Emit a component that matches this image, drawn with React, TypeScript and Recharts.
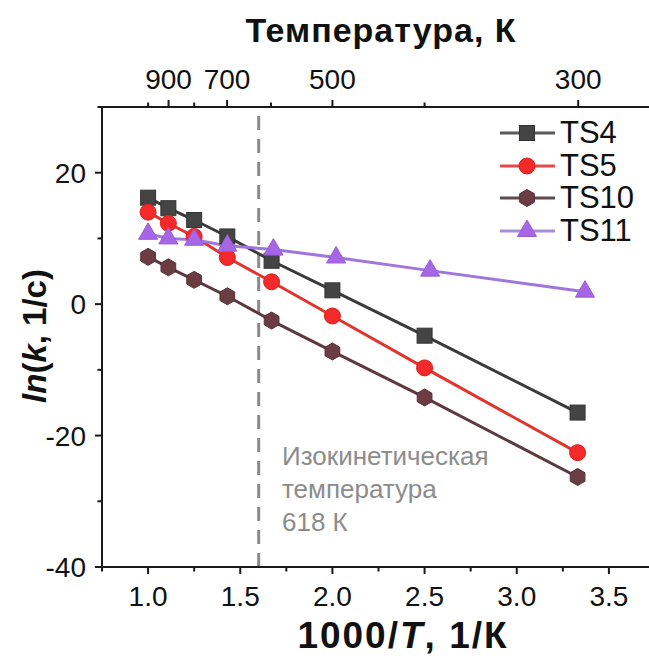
import { LineChart, Line, XAxis, YAxis, ReferenceLine } from 'recharts';

// 1000/T values (1/K)
const invT = [1.0, 1.11, 1.25, 1.43, 1.67, 2.0, 2.5, 3.33];
const invT11 = [1.0, 1.11, 1.25, 1.43, 1.68, 2.02, 2.53, 3.37];

// ln(k, 1/c)
const ts4 = [16.2, 14.6, 12.8, 10.3, 6.6, 2.1, -4.8, -16.5];
const ts5 = [14.0, 12.3, 10.3, 7.1, 3.4, -1.8, -9.7, -22.6];
const ts10 = [7.2, 5.6, 3.7, 1.2, -2.5, -7.2, -14.2, -26.3];
const ts11 = [10.7, 10.0, 9.8, 8.9, 8.3, 7.1, 5.1, 1.9];

const bottomTicks = [0.75, 1.0, 1.25, 1.5, 1.75, 2.0, 2.25, 2.5, 2.75, 3.0, 3.25, 3.5];
const bottomMajor = [1.0, 1.5, 2.0, 2.5, 3.0, 3.5];
const yTicks = [-40, -30, -20, -10, 0, 10, 20, 30];
const yMajor = [-40, -20, 0, 20];
const topTicksK = [1000, 900, 800, 700, 600, 500, 400, 300];
const topMajorK = [900, 700, 500, 300];
const isokineticX = 1.6;

const FONT = '"Liberation Sans", Arial, sans-serif';
const AXIS = '#1a1a1a';

const toPoints = (xs: number[], ys: number[]) => xs.map((x, i) => ({ x, y: ys[i] }));

// TS11 sits on the top axis (same domain) so that axis gets its ticks
const series = [
  { name: 'TS4', data: toPoints(invT, ts4), axis: 0, line: '#3b3b3b', fill: '#444444', legendLine: '#5a5a5a', shape: 'square' },
  { name: 'TS5', data: toPoints(invT, ts5), axis: 0, line: '#e0352d', fill: '#f42a2a', legendLine: '#e54a4a', shape: 'circle' },
  { name: 'TS10', data: toPoints(invT, ts10), axis: 0, line: '#5c3a40', fill: '#6c3c43', legendLine: '#5f4a4f', shape: 'hex' },
  { name: 'TS11', data: toPoints(invT11, ts11), axis: 'top', line: '#a076de', fill: '#a766e6', legendLine: '#a58fd6', shape: 'tri' },
];

function Marker({ cx, cy, shape, fill }: { cx: number; cy: number; shape: string; fill: string }) {
  if (cx == null || cy == null) return null;
  if (shape === 'square') {
    return <rect x={cx - 7.5} y={cy - 7.5} width={15} height={15} fill={fill} stroke="#333" strokeWidth={1} />;
  }
  if (shape === 'circle') {
    return <circle cx={cx} cy={cy} r={8} fill={fill} stroke="#d82020" strokeWidth={1} />;
  }
  if (shape === 'hex') {
    const r = 8.5;
    const pts = [0, 1, 2, 3, 4, 5]
      .map((i) => {
        const a = (Math.PI / 3) * i - Math.PI / 2;
        return `${cx + r * Math.cos(a)},${cy + r * Math.sin(a)}`;
      })
      .join(' ');
    return <polygon points={pts} fill={fill} stroke="#553036" strokeWidth={1} />;
  }
  const r = 11;
  const pts = `${cx},${cy - r} ${cx - r * 0.866},${cy + r * 0.5} ${cx + r * 0.866},${cy + r * 0.5}`;
  return <polygon points={pts} fill={fill} stroke="#9a5ad8" strokeWidth={1} />;
}

const BottomTick = (props: any) => {
  const { x, y, payload } = props;
  const major = bottomMajor.includes(payload.value);
  return (
    <g>
      <line x1={x} y1={y} x2={x} y2={y + (major ? 7 : 4.5)} stroke={AXIS} strokeWidth={2} />
      {major && (
        <text x={x} y={y + 39} textAnchor="middle" fontSize={28} fill="#111" fontFamily={FONT}>
          {payload.value.toFixed(1)}
        </text>
      )}
    </g>
  );
};

const TopTick = (props: any) => {
  const { x, y, payload } = props;
  const k = Math.round(1000 / payload.value);
  const major = topMajorK.includes(k);
  return (
    <g>
      <line x1={x} y1={y} x2={x} y2={y - (major ? 7 : 4.5)} stroke={AXIS} strokeWidth={2} />
      {major && (
        <text x={x} y={y - 18} textAnchor="middle" fontSize={28} fill="#111" fontFamily={FONT}>
          {k}
        </text>
      )}
    </g>
  );
};

const LeftTick = (props: any) => {
  const { x, y, payload } = props;
  const major = yMajor.includes(payload.value);
  return (
    <g>
      <line x1={x} y1={y} x2={x - (major ? 7 : 4.5)} y2={y} stroke={AXIS} strokeWidth={2} />
      {major && (
        <text x={x - 16} y={y} dy="0.36em" textAnchor="end" fontSize={28} fill="#111" fontFamily={FONT}>
          {payload.value}
        </text>
      )}
    </g>
  );
};

const LegendBox = () => (
  <div style={{ position: 'absolute', left: 498, top: 117, fontFamily: FONT }}>
    {series.map((s) => (
      <div key={s.name} style={{ display: 'flex', alignItems: 'center', height: 32.5 }}>
        <svg width={62} height={30}>
          <line x1={2} y1={15} x2={57} y2={15} stroke={s.legendLine} strokeWidth={3} />
          <Marker cx={29} cy={15} shape={s.shape} fill={s.fill} />
        </svg>
        <span style={{ fontSize: 31, color: '#111', lineHeight: '32px' }}>{s.name}</span>
      </div>
    ))}
  </div>
);

export default function App() {
  return (
    <div style={{ position: 'absolute', left: 0, top: 0, width: 649, height: 659, overflow: 'hidden', background: '#fff' }}>
      <LineChart width={680} height={659} margin={{ top: 67, right: 25, bottom: 52, left: 0 }}>
        <XAxis
          dataKey="x"
          type="number"
          domain={[0.75, 3.75]}
          allowDataOverflow
          ticks={bottomTicks}
          interval={0}
          tickSize={0}
          tickMargin={0}
          tickLine={false}
          tick={<BottomTick />}
          axisLine={{ stroke: AXIS, strokeWidth: 2 }}
          height={40}
        />
        <XAxis
          xAxisId="top"
          dataKey="x"
          orientation="top"
          type="number"
          domain={[0.75, 3.75]}
          allowDataOverflow
          ticks={topTicksK.map((k) => 1000 / k)}
          interval={0}
          tickSize={0}
          tickMargin={0}
          tickLine={false}
          tick={<TopTick />}
          axisLine={{ stroke: AXIS, strokeWidth: 2 }}
          height={40}
        />
        <YAxis
          type="number"
          domain={[-40, 30]}
          allowDataOverflow
          ticks={yTicks}
          interval={0}
          tickSize={0}
          tickMargin={0}
          tickLine={false}
          tick={<LeftTick />}
          axisLine={{ stroke: AXIS, strokeWidth: 2 }}
          width={102}
        />
        <ReferenceLine x={isokineticX} stroke="#8a8a8a" strokeWidth={3} strokeDasharray="14 9" />
        {series.map((s) => (
          <Line
            key={s.name}
            xAxisId={s.axis}
            data={s.data}
            dataKey="y"
            name={s.name}
            type="linear"
            stroke={s.line}
            strokeWidth={3}
            isAnimationActive={false}
            dot={(p: any) => <Marker key={`${s.name}-${p.index}`} cx={p.cx} cy={p.cy} shape={s.shape} fill={s.fill} />}
            activeDot={false}
          />
        ))}
      </LineChart>
      <LegendBox />
      <svg width={649} height={659} style={{ position: 'absolute', left: 0, top: 0, pointerEvents: 'none' }} fontFamily={FONT}>
        <text x={381} y={42} textAnchor="middle" fontSize={34} fontWeight="bold" fill="#111" letterSpacing={1}>
          Температура, К
        </text>
        <text x={403} y={648} textAnchor="middle" fontSize={37} fontWeight="bold" fill="#111" letterSpacing={2}>
          1000/<tspan fontStyle="italic">T</tspan>, 1/К
        </text>
        <text transform="translate(46,336) rotate(-90)" textAnchor="middle" fontSize={33} fontWeight="bold" fill="#111">
          <tspan fontStyle="italic">ln</tspan>(<tspan fontStyle="italic">k</tspan>, 1/c)
        </text>
        <g fontSize={26} fill="#8c8c8c">
          <text x={282} y={465}>Изокинетическая</text>
          <text x={282} y={498}>температура</text>
          <text x={282} y={531}>618 К</text>
        </g>
      </svg>
    </div>
  );
}
